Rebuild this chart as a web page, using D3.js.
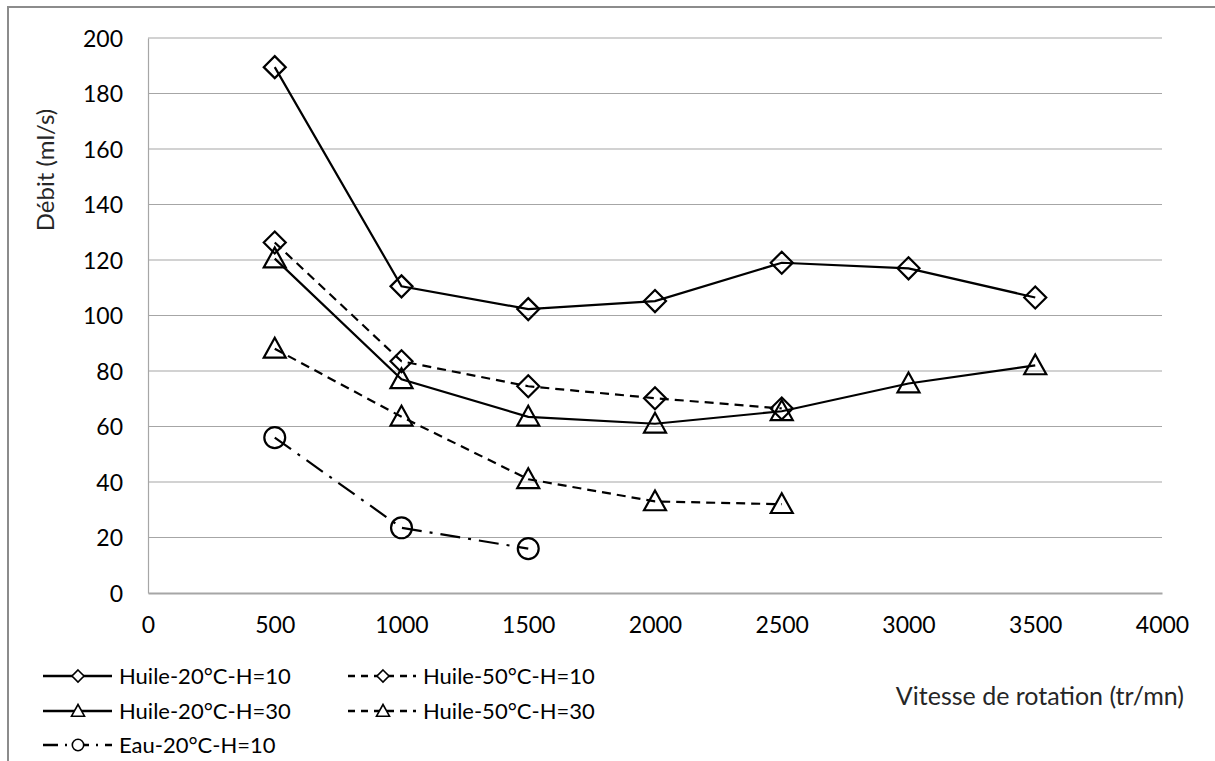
<!DOCTYPE html>
<html>
<head>
<meta charset="utf-8">
<script src="https://cdn.jsdelivr.net/npm/d3@7"></script>
<style>
  body { margin: 0; background: #fff; }
  svg { font-family: Lato, "Open Sans", sans-serif; }
</style>
</head>
<body>
<div id="chart"></div>
<script>
// data
const vitesse = [500, 1000, 1500, 2000, 2500, 3000, 3500];
const huile20H10 = [189.5, 110.5, 102.3, 105.2, 119, 117, 106.5];
const huile50H10 = [126.3, 83.5, 74.5, 70.2, 66.5];
const huile20H30 = [120.5, 77, 63.5, 61, 65.5, 75.5, 82];
const huile50H30 = [88, 63.5, 41, 33, 32];
const eau20H10 = [56, 23.5, 16];
const xTicks = [0, 500, 1000, 1500, 2000, 2500, 3000, 3500, 4000];
const yTicks = [0, 20, 40, 60, 80, 100, 120, 140, 160, 180, 200];

const series = [
  { name: "Huile-20°C-H=10", values: huile20H10, marker: "diamond", dash: null, legDash: null },
  { name: "Huile-50°C-H=10", values: huile50H10, marker: "diamond", dash: "9,6", legDash: "7,6" },
  { name: "Huile-20°C-H=30", values: huile20H30, marker: "triangle", dash: null, legDash: null },
  { name: "Huile-50°C-H=30", values: huile50H30, marker: "triangle", dash: "9,6", legDash: "7,6" },
  { name: "Eau-20°C-H=10", values: eau20H10, marker: "circle", dash: "20,8,3,8", legDash: "15,7,2,7" }
];

const W = 1215, H = 761;
const svg = d3.select("#chart").append("svg")
  .attr("width", W).attr("height", H);

// outer frame
svg.append("path")
  .attr("d", "M8," + H + " V7 H" + W)
  .attr("fill", "none").attr("stroke", "#8c8c8c").attr("stroke-width", 2);

const x = d3.scaleLinear().domain([0, 4000]).range([148, 1162]);
const y = d3.scaleLinear().domain([0, 200]).range([593, 38]);

// gridlines
svg.append("g").selectAll("line")
  .data(yTicks.filter(d => d > 0))
  .enter().append("line")
  .attr("x1", x(0)).attr("x2", x(4000))
  .attr("y1", d => y(d)).attr("y2", d => y(d))
  .attr("stroke", "#a6a6a6").attr("stroke-width", 1.2);

// axes
const yAxis = svg.append("g")
  .attr("transform", "translate(" + x(0) + ",0)")
  .call(d3.axisLeft(y).tickValues(yTicks).tickSize(0).tickPadding(25));
yAxis.select(".domain").attr("stroke", "#a6a6a6").attr("stroke-width", 1.2);

const xAxis = svg.append("g")
  .attr("transform", "translate(0," + y(0) + ")")
  .call(d3.axisBottom(x).tickValues(xTicks).tickFormat(d3.format("d")).tickSize(0).tickPadding(24));
xAxis.select(".domain").attr("stroke", "#a6a6a6").attr("stroke-width", 2);

svg.selectAll(".tick text")
  .attr("font-family", "Lato, sans-serif")
  .attr("font-size", 23).attr("fill", "#000");
yAxis.selectAll(".tick text").attr("dy", "0.35em");

// axis titles
svg.append("text")
  .attr("transform", "translate(54,170) rotate(-90)")
  .attr("text-anchor", "middle")
  .attr("font-size", 24)
  .attr("fill", "#262626")
  .text("Débit (ml/s)");
svg.append("text")
  .attr("x", 1184).attr("y", 705)
  .attr("text-anchor", "end")
  .attr("font-size", 25)
  .attr("fill", "#262626")
  .text("Vitesse de rotation (tr/mn)");

function drawMarker(g, type, cx, cy, s) {
  if (type === "diamond") {
    g.append("path")
      .attr("d", "M" + cx + "," + (cy - s) + " L" + (cx + s) + "," + cy + " L" + cx + "," + (cy + s) + " L" + (cx - s) + "," + cy + " Z");
  } else if (type === "triangle") {
    g.append("path")
      .attr("d", "M" + cx + "," + (cy - s) + " L" + (cx + s) + "," + (cy + s * 0.8) + " L" + (cx - s) + "," + (cy + s * 0.8) + " Z");
  } else {
    g.append("circle").attr("cx", cx).attr("cy", cy).attr("r", s * 0.95);
  }
}

const line = d3.line()
  .x((d, i) => x(vitesse[i]))
  .y(d => y(d));

series.forEach(s => {
  svg.append("path")
    .datum(s.values)
    .attr("d", line)
    .attr("fill", "none")
    .attr("stroke", "#000")
    .attr("stroke-width", 2.2)
    .attr("stroke-dasharray", s.dash);
  const mg = svg.append("g")
    .attr("fill", "none").attr("stroke", "#000").attr("stroke-width", 2.2);
  s.values.forEach((v, i) => drawMarker(mg, s.marker, x(vitesse[i]), y(v), 11));
});

// legend
const legendPos = [
  { x: 43, y: 676, len: 69 }, { x: 348, y: 676, len: 68 },
  { x: 43, y: 711, len: 69 }, { x: 348, y: 711, len: 68 },
  { x: 43, y: 745, len: 69 }
];
series.forEach((s, i) => {
  const p = legendPos[i];
  const lg = svg.append("g");
  lg.append("line")
    .attr("x1", p.x).attr("x2", p.x + p.len)
    .attr("y1", p.y).attr("y2", p.y)
    .attr("stroke", "#000").attr("stroke-width", 2.6)
    .attr("stroke-dasharray", s.legDash);
  const mg = lg.append("g").attr("fill", "#fff").attr("stroke", "#000").attr("stroke-width", 1.6);
  drawMarker(mg, s.marker, p.x + 35, p.y, s.marker === "triangle" ? 6.5 : 6);
  lg.append("text")
    .attr("x", p.x + p.len + 7).attr("y", p.y + 8)
    .attr("font-size", 22)
    .attr("fill", "#000")
    .text(s.name);
});
</script>
</body>
</html>
